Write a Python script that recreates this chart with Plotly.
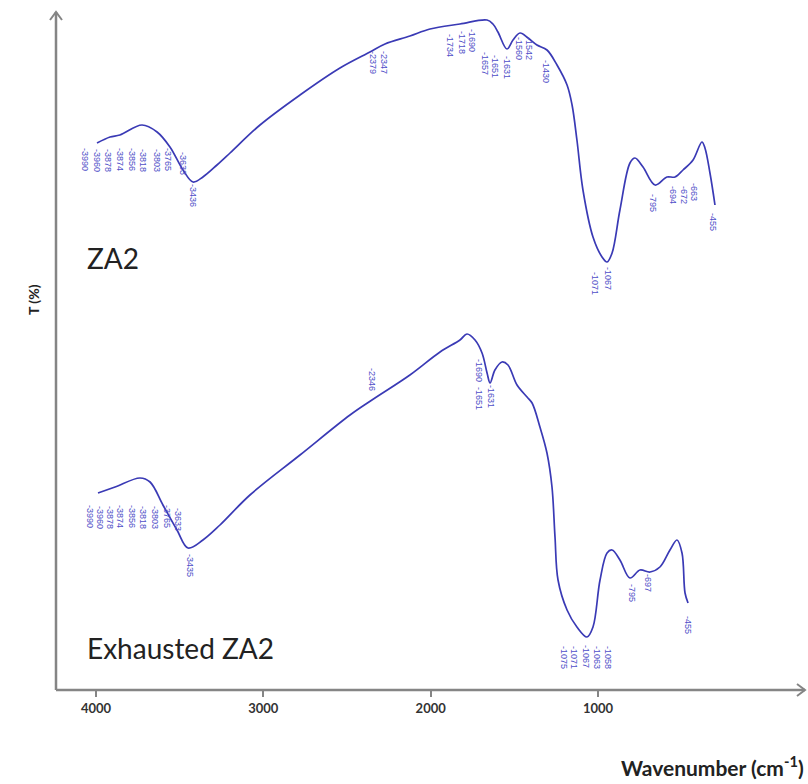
import plotly.graph_objects as go

# ---- Data (apparent wavenumber on the drawn axis, transmittance in arbitrary units) ----
za2_wn = [3994, 3916, 3857, 3725, 3635, 3558, 3480, 3420, 3361, 3277, 3199, 3020, 2781, 2542,
          2363, 2273, 2124, 2004, 1825, 1663, 1628, 1598, 1544, 1508, 1466, 1418, 1365, 1305,
          1245, 1185, 1155, 1126, 1090, 1030, 976, 946, 916, 869, 809, 779, 731, 659, 588, 540,
          492, 432, 379, 361, 331, 301]
za2_t = [547, 553, 555, 565, 558, 543, 520, 508, 513, 525, 537, 565, 595, 622,
         638, 646, 654, 661, 666, 670, 666, 658, 641, 650, 657, 652, 645, 640,
         625, 605, 585, 550, 500, 453, 433, 428, 437, 480, 527, 532, 523, 505, 513, 513,
         520, 530, 548, 542, 517, 485]

exh_wn = [3988, 3886, 3737, 3677, 3600, 3516, 3450, 3361, 3259, 3080, 2781, 2482, 2351, 2124,
          1944, 1825, 1783, 1735, 1693, 1663, 1645, 1616, 1574, 1538, 1484, 1424, 1394, 1347,
          1305, 1275, 1257, 1239, 1185, 1126, 1066, 1030, 988, 946, 916, 869, 809, 749, 689,
          630, 570, 528, 498, 480, 462]
exh_t = [197, 203, 212, 208, 185, 160, 142, 150, 165, 195, 235, 275, 290, 315,
         338, 350, 356, 350, 337, 317, 307, 320, 328, 325, 305, 293, 287, 263,
         237, 203, 153, 110, 80, 63, 53, 63, 110, 137, 140, 130, 112, 120, 118,
         123, 140, 150, 137, 97, 87]

# Peak labels: text, label position (wavenumber, T)
za2_peak_text = ["3990", "3960", "3878", "3874", "3856", "3818", "3803", "3765", "3633", "3436",
                 "2379", "2347", "1734", "1718", "1690", "1657", "1651", "1631", "1560", "1542",
                 "1430", "1071", "1067", "795", "694", "672", "663", "455"]
za2_peak_wn = [4066, 3994, 3928, 3857, 3785, 3719, 3635, 3570, 3480, 3420,
               2345, 2279, 1884, 1813, 1753, 1675, 1616, 1544, 1472, 1412,
               1311, 1018, 940, 671, 552, 486, 426, 313]
za2_peak_t = [530, 530, 530, 530, 530, 530, 530, 530, 527, 495,
              627, 627, 645, 647, 650, 627, 623, 622, 642, 642,
              618, 407, 412, 487, 495, 495, 498, 468]

exh_peak_text = ["3990", "3960", "3878", "3874", "3856", "3818", "3803", "3765", "3633", "3435",
                 "2346", "1690", "1651", "1631", "1075", "1071", "1067", "1063", "1058",
                 "795", "697", "455"]
exh_peak_wn = [4036, 3976, 3916, 3857, 3785, 3719, 3647, 3576, 3510, 3438,
               2351, 1711, 1711, 1640, 1203, 1143, 1072, 1006, 940,
               797, 701, 462]
exh_peak_t = [173, 173, 173, 173, 173, 173, 173, 173, 170, 125,
              310, 320, 292, 293, 33, 33, 33, 33, 33,
              97, 107, 65]

x_ticks = [4000, 3000, 2000, 1000]

LINE = "#3a3ab5"
LABEL = "#5050c8"
AXIS = "#858585"

fig = go.Figure()
fig.add_trace(go.Scatter(x=za2_wn, y=za2_t, mode="lines", line=dict(color=LINE, width=1.7),
                         line_shape="spline", hoverinfo="skip", showlegend=False))
fig.add_trace(go.Scatter(x=exh_wn, y=exh_t, mode="lines", line=dict(color=LINE, width=1.7),
                         line_shape="spline", hoverinfo="skip", showlegend=False))

ann = []
for txt, xw, yt in list(zip(za2_peak_text, za2_peak_wn, za2_peak_t)) + list(zip(exh_peak_text, exh_peak_wn, exh_peak_t)):
    ann.append(dict(x=xw, y=yt, xref="x", yref="y", text="-" + txt, textangle=90, showarrow=False,
                    font=dict(family="Liberation Sans Narrow, Arial Narrow, Liberation Sans", size=9, color=LABEL),
                    xanchor="center", yanchor="middle"))

ann.append(dict(x=4066, y=432, xref="x", yref="y", text="ZA2", showarrow=False, xanchor="left",
                yanchor="middle", font=dict(family="Lato", size=28, color="#222222")))
ann.append(dict(x=4066, y=42, xref="x", yref="y", text="Exhausted ZA2", showarrow=False, xanchor="left",
                yanchor="middle", font=dict(family="Lato", size=28, color="#222222")))

L, R, T, B = 56, 5, 15, 94
W, H = 808, 784
pw, ph = W - L - R, H - T - B

def px(xp):
    return (xp - L) / pw

def py(yp):
    return (H - B - yp) / ph

ann.append(dict(x=px(806), y=py(766), xref="paper", yref="paper", text="<b>Wavenumber (cm<sup>-1</sup>)</b>",
                showarrow=False, xanchor="right", yanchor="middle",
                font=dict(family="Lato", size=21, color="#222222")))
ann.append(dict(x=px(33), y=py(300), xref="paper", yref="paper", text="<b>T (%)</b>", textangle=-90,
                showarrow=False, xanchor="center", yanchor="middle",
                font=dict(family="Lato", size=14, color="#222222")))

shapes = [
    dict(type="path", xref="paper", yref="paper",
         path=f"M {px(797)} {py(684)} L {px(805)} {py(690)} L {px(797)} {py(696)}",
         line=dict(color=AXIS, width=2)),
    dict(type="path", xref="paper", yref="paper",
         path=f"M {px(50)} {py(20)} L {px(56)} {py(12)} L {px(62)} {py(20)}",
         line=dict(color=AXIS, width=2)),
    dict(type="line", xref="paper", yref="paper", x0=px(56), x1=px(56), y0=py(690), y1=py(12),
         line=dict(color=AXIS, width=2.5)),
    dict(type="line", xref="paper", yref="paper", x0=px(56), x1=px(805), y0=py(690), y1=py(690),
         line=dict(color=AXIS, width=2.5)),
]

fig.update_layout(
    width=W, height=H,
    margin=dict(l=L, r=R, t=T, b=B, pad=0),
    paper_bgcolor="white", plot_bgcolor="white",
    annotations=ann, shapes=shapes,
    xaxis=dict(range=[4239, -225], tickvals=x_ticks, ticktext=[str(v) for v in x_ticks],
               ticks="outside", ticklen=6, tickwidth=1.5, tickcolor=AXIS,
               showgrid=False, zeroline=False, showline=False,
               tickfont=dict(family="Lato", size=13, color="#333333", weight="bold")),
    yaxis=dict(range=[0, 675], showticklabels=False, ticks="", showgrid=False, zeroline=False,
               showline=False),
)

fig.write_html("out.html")
